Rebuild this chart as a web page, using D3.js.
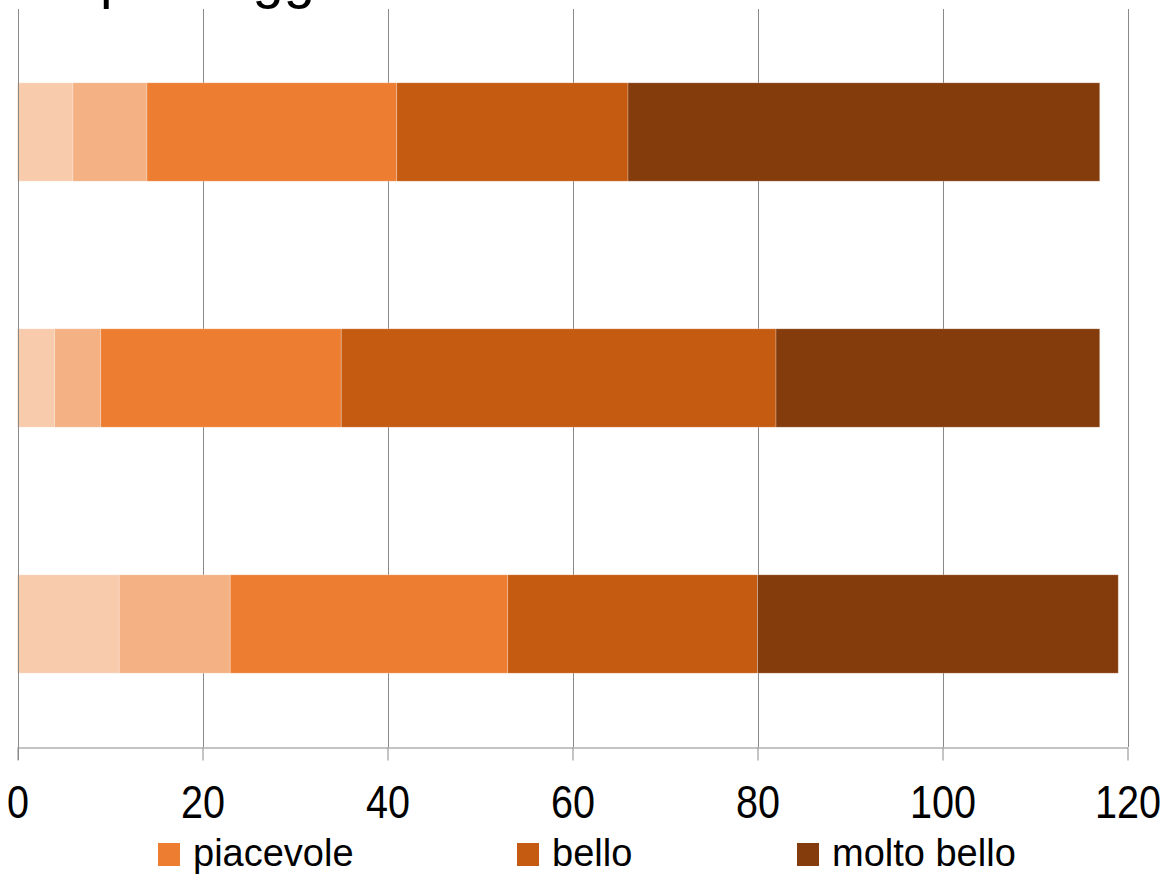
<!DOCTYPE html>
<html>
<head>
<meta charset="utf-8">
<script src="https://cdn.jsdelivr.net/npm/d3@7/dist/d3.min.js"></script>
<style>
  html, body { margin: 0; padding: 0; background: #fff; }
  svg { display: block; }
  text { font-family: "Liberation Sans", Arial, sans-serif; fill: #000; }
</style>
</head>
<body>
<svg id="chart" width="1165" height="875"></svg>
<script>
// ---- data ----
const categories = ["C", "B", "A"];            // top to bottom (axis labels not visible)
const seriesNames = ["serie 1", "serie 2", "piacevole", "bello", "molto bello"];
const seriesColors = ["#F8CBAD", "#F4B183", "#ED7D31", "#C55A11", "#843C0C"];
const serie1     = [6, 4, 11];
const serie2     = [8, 5, 12];
const piacevole  = [27, 26, 30];
const bello      = [25, 47, 27];
const moltoBello = [51, 35, 39];
const xTicks = [0, 20, 40, 60, 80, 100, 120];
const legendItems = ["piacevole", "bello", "molto bello"];
const titleText = "paesaggi";

// ---- layout ----
const svg = d3.select("#chart");
const plotLeft = 17.5, plotRight = 1127.5, plotTop = 9, plotBottom = 747;

const x = d3.scaleLinear().domain([0, 120]).range([plotLeft, plotRight]);
const y = d3.scaleBand().domain(categories).range([plotTop, plotBottom]).paddingInner(0.6).paddingOuter(0.3);

const table = categories.map((c, i) => ({
  cat: c,
  "serie 1": serie1[i], "serie 2": serie2[i], "piacevole": piacevole[i],
  "bello": bello[i], "molto bello": moltoBello[i]
}));
const stacked = d3.stack().keys(seriesNames)(table);
const color = d3.scaleOrdinal().domain(seriesNames).range(seriesColors);

// title (cut off at top in the reference: only descenders visible)
svg.append("text")
  .attr("x", 100).attr("y", -3)
  .style("font-size", "56px")
  .text(titleText);

// vertical gridlines
svg.append("g")
  .selectAll("line")
  .data(xTicks.slice(1))
  .join("line")
  .attr("x1", d => Math.round(x(d)) + 0.5).attr("x2", d => Math.round(x(d)) + 0.5)
  .attr("y1", plotTop).attr("y2", plotBottom)
  .attr("stroke", "#898989").attr("stroke-width", 1);

// bars
svg.append("g")
  .selectAll("g")
  .data(stacked)
  .join("g")
  .attr("fill", d => color(d.key))
  .selectAll("rect")
  .data(d => d)
  .join("rect")
  .attr("x", d => x(d[0]))
  .attr("width", d => x(d[1]) - x(d[0]))
  .attr("y", d => y(d.data.cat))
  .attr("height", y.bandwidth())
  .attr("stroke", "#ffffff").attr("stroke-opacity", 0.35).attr("stroke-width", 0.75);

// x axis
const xAxis = d3.axisBottom(x).tickValues(xTicks).tickSize(13).tickSizeOuter(0).tickPadding(24);
const gx = svg.append("g").attr("transform", `translate(0,${plotBottom + 0.5})`).call(xAxis);
gx.select(".domain").attr("stroke", "#898989");
gx.selectAll(".tick line").attr("stroke", "#898989");
gx.selectAll(".tick text")
  .style("font-size", "46px")
  .attr("fill", "#000")
  .attr("dy", "0.72em")
  .attr("transform", "scale(0.86,1)");

// y axis line
svg.append("line")
  .attr("x1", Math.round(plotLeft) + 0.5).attr("x2", Math.round(plotLeft) + 0.5)
  .attr("y1", plotTop).attr("y2", plotBottom + 13)
  .attr("stroke", "#898989").attr("stroke-width", 1);

// legend
const legendX = [158, 517, 797];
const lg = svg.append("g").selectAll("g")
  .data(legendItems)
  .join("g")
  .attr("transform", (d, i) => `translate(${legendX[i]},843)`);
lg.append("rect").attr("width", 22).attr("height", 23).attr("fill", d => color(d));
lg.append("text").attr("x", 35).attr("y", 23).style("font-size", "38px").text(d => d);
</script>
</body>
</html>
